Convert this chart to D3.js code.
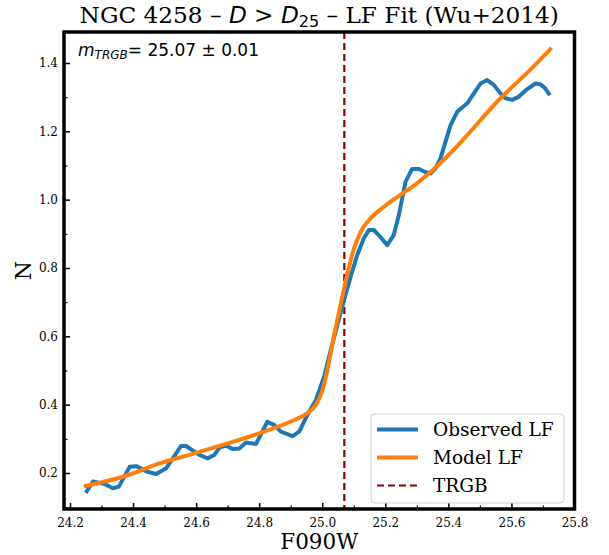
<!DOCTYPE html>
<html>
<head>
<meta charset="utf-8">
<script src="https://cdn.jsdelivr.net/npm/d3@7"></script>
<style>
  body { margin: 0; background: #fff; }
  svg { display: block; }
</style>
</head>
<body>
<div id="chart"></div>
<script>
// Observed luminosity function (F090W mag, N)
const obsMag = [24.25, 24.273, 24.31, 24.336, 24.355, 24.389, 24.41, 24.444, 24.473, 24.505,
  24.526, 24.552, 24.568, 24.61, 24.637, 24.658, 24.674, 24.695, 24.716, 24.737,
  24.758, 24.79, 24.826, 24.848, 24.869, 24.906, 24.927, 24.953, 24.98, 25.006,
  25.027, 25.048, 25.069, 25.09, 25.111, 25.132, 25.148, 25.164, 25.185, 25.206,
  25.227, 25.243, 25.264, 25.285, 25.306, 25.328, 25.344, 25.36, 25.375, 25.391,
  25.407, 25.428, 25.46, 25.481, 25.502, 25.523, 25.544, 25.565, 25.58, 25.602,
  25.623, 25.649, 25.676, 25.691, 25.707, 25.722]
const obsN = [0.142, 0.175, 0.168, 0.155, 0.16, 0.218, 0.22, 0.204, 0.197, 0.214,
  0.243, 0.279, 0.279, 0.253, 0.243, 0.253, 0.274, 0.28, 0.27, 0.272,
  0.289, 0.285, 0.35, 0.34, 0.321, 0.308, 0.321, 0.37, 0.414, 0.482,
  0.56, 0.633, 0.706, 0.774, 0.838, 0.887, 0.911, 0.911, 0.89, 0.867,
  0.897, 0.955, 1.052, 1.09, 1.09, 1.08, 1.077, 1.092, 1.121, 1.17,
  1.218, 1.257, 1.282, 1.311, 1.34, 1.35, 1.336, 1.311, 1.297, 1.292,
  1.301, 1.323, 1.34, 1.338, 1.326, 1.306]

// Model LF (smooth fit)
const modelMag = [24.25, 24.378, 24.484, 24.589, 24.695, 24.8, 24.906, 24.948, 24.98, 25.0,
  25.016, 25.037, 25.059, 25.08, 25.1, 25.122, 25.148, 25.19, 25.243, 25.296,
  25.349, 25.4, 25.454, 25.556, 25.665, 25.723]
const modelN = [0.162, 0.192, 0.228, 0.256, 0.285, 0.316, 0.353, 0.372, 0.40, 0.44,
  0.50, 0.60, 0.697, 0.784, 0.855, 0.906, 0.94, 0.975, 1.011, 1.045,
  1.085, 1.13, 1.183, 1.288, 1.385, 1.44]

const trgb = 25.07
const trgbErr = 0.01

const xTicks = [24.2, 24.4, 24.6, 24.8, 25.0, 25.2, 25.4, 25.6, 25.8]
const yTicks = [0.2, 0.4, 0.6, 0.8, 1.0, 1.2, 1.4]
const xMinor = [24.3, 24.5, 24.7, 24.9, 25.1, 25.3, 25.5, 25.7]
const yMinor = [0.1, 0.3, 0.5, 0.7, 0.9, 1.1, 1.3]

const legendItems = [
  {label: 'Observed LF', color: '#1f77b4', dash: null, w: 4},
  {label: 'Model LF', color: '#ff7f0e', dash: null, w: 4},
  {label: 'TRGB', color: '#8b0000', dash: '7,4', w: 2.2},
]

// dimensions
const width = 609, height = 555
const box = {left: 64, right: 574.5, top: 32, bottom: 509}

const svg = d3.select('#chart').append('svg')
  .attr('width', width)
  .attr('height', height)

const xScale = d3.scaleLinear()
  .domain([24.181, 25.8])
  .range([box.left, box.right])

const yScale = d3.scaleLinear()
  .domain([0.0946, 1.4907])
  .range([box.bottom, box.top])

const serif = "'DejaVu Serif', serif"
const sans = "'DejaVu Sans', sans-serif"

// TRGB line
svg.append('line')
  .attr('x1', xScale(trgb)).attr('x2', xScale(trgb))
  .attr('y1', box.top).attr('y2', box.bottom)
  .attr('stroke', '#8b0000')
  .attr('stroke-width', 2.2)
  .attr('stroke-dasharray', '7,4')

const obs = obsMag.map((m, i) => [m, obsN[i]])
const model = modelMag.map((m, i) => [m, modelN[i]])

const line = d3.line()
  .x(d => xScale(d[0]))
  .y(d => yScale(d[1]))

svg.append('path')
  .datum(obs)
  .attr('d', line)
  .attr('fill', 'none')
  .attr('stroke', '#1f77b4')
  .attr('stroke-width', 4)
  .attr('stroke-linejoin', 'round')

svg.append('path')
  .datum(model)
  .attr('d', line.curve(d3.curveMonotoneX))
  .attr('fill', 'none')
  .attr('stroke', '#ff7f0e')
  .attr('stroke-width', 4)
  .attr('stroke-linecap', 'square')

// Axes (ticks pointing inward)
const xAxis = d3.axisBottom(xScale)
  .tickValues(xTicks)
  .tickFormat(d3.format('.1f'))
  .tickSizeInner(-6)
  .tickSizeOuter(0)
  .tickPadding(9)

const gx = svg.append('g')
  .attr('transform', `translate(0, ${box.bottom})`)
  .call(xAxis)
gx.select('.domain').remove()
gx.selectAll('text').attr('font-family', serif).attr('font-size', 12).attr('fill', '#000')
gx.selectAll('line').attr('stroke-width', 1.5)

svg.append('g')
  .attr('transform', `translate(0, ${box.bottom})`)
  .call(d3.axisBottom(xScale).tickValues(xMinor).tickSizeInner(-3.5).tickSizeOuter(0).tickFormat(''))
  .call(g => g.select('.domain').remove())
  .selectAll('line').attr('stroke-width', 1.2)

const yAxis = d3.axisLeft(yScale)
  .tickValues(yTicks)
  .tickFormat(d3.format('.1f'))
  .tickSizeInner(-6)
  .tickSizeOuter(0)
  .tickPadding(6)

const gy = svg.append('g')
  .attr('transform', `translate(${box.left}, 0)`)
  .call(yAxis)
gy.select('.domain').remove()
gy.selectAll('text').attr('font-family', serif).attr('font-size', 12).attr('fill', '#000')
gy.selectAll('line').attr('stroke-width', 1.5)

svg.append('g')
  .attr('transform', `translate(${box.left}, 0)`)
  .call(d3.axisLeft(yScale).tickValues(yMinor).tickSizeInner(-3.5).tickSizeOuter(0).tickFormat(''))
  .call(g => g.select('.domain').remove())
  .selectAll('line').attr('stroke-width', 1.2)

// frame
svg.append('rect')
  .attr('x', box.left).attr('y', box.top)
  .attr('width', box.right - box.left)
  .attr('height', box.bottom - box.top)
  .attr('fill', 'none')
  .attr('stroke', '#000')
  .attr('stroke-width', 3.5)

// annotation
const ann = svg.append('text')
  .attr('x', 78).attr('y', 56)
  .attr('font-family', sans)
  .attr('font-size', 17)
ann.append('tspan').attr('font-style', 'italic').text('m')
ann.append('tspan').attr('font-style', 'italic').attr('font-size', 12).attr('dy', 3).text('TRGB')
ann.append('tspan').attr('dy', -3).text(`= ${trgb.toFixed(2)} ± ${trgbErr.toFixed(2)}`)

// legend
const lg = svg.append('g').attr('transform', 'translate(371, 414)')
lg.append('rect')
  .attr('width', 193).attr('height', 89)
  .attr('rx', 4)
  .attr('fill', '#fff').attr('fill-opacity', 0.8)
  .attr('stroke', '#d0d0d0').attr('stroke-width', 1)

legendItems.forEach((it, i) => {
  const cy = 15.5 + i * 28
  lg.append('line')
    .attr('x1', 6).attr('x2', 47)
    .attr('y1', cy).attr('y2', cy)
    .attr('stroke', it.color)
    .attr('stroke-width', it.w)
    .attr('stroke-dasharray', it.dash)
  lg.append('text')
    .attr('x', 62).attr('y', cy + 6.5)
    .attr('font-family', serif)
    .attr('font-size', 18.5)
    .text(it.label)
})

// title
const title = svg.append('text')
  .attr('x', (box.left + box.right) / 2).attr('y', 23)
  .attr('text-anchor', 'middle')
  .attr('font-family', serif)
  .attr('font-size', 23.2)
title.append('tspan').text('NGC 4258 – ')
title.append('tspan').attr('font-family', sans).attr('font-style', 'italic').text('D')
title.append('tspan').attr('font-family', sans).text(' > ')
title.append('tspan').attr('font-family', sans).attr('font-style', 'italic').text('D')
title.append('tspan').attr('font-family', sans).attr('font-size', 16).attr('dy', 4).text('25')
title.append('tspan').attr('dy', -4).text(' – LF Fit (Wu+2014)')

// axis labels
svg.append('text')
  .attr('x', (box.left + box.right) / 2).attr('y', 549)
  .attr('text-anchor', 'middle')
  .attr('font-family', serif)
  .attr('font-size', 21.5)
  .text('F090W')

svg.append('text')
  .attr('transform', `translate(31, ${(box.top + box.bottom) / 2}) rotate(-90)`)
  .attr('text-anchor', 'middle')
  .attr('font-family', serif)
  .attr('font-size', 22)
  .text('N')
</script>
</body>
</html>
